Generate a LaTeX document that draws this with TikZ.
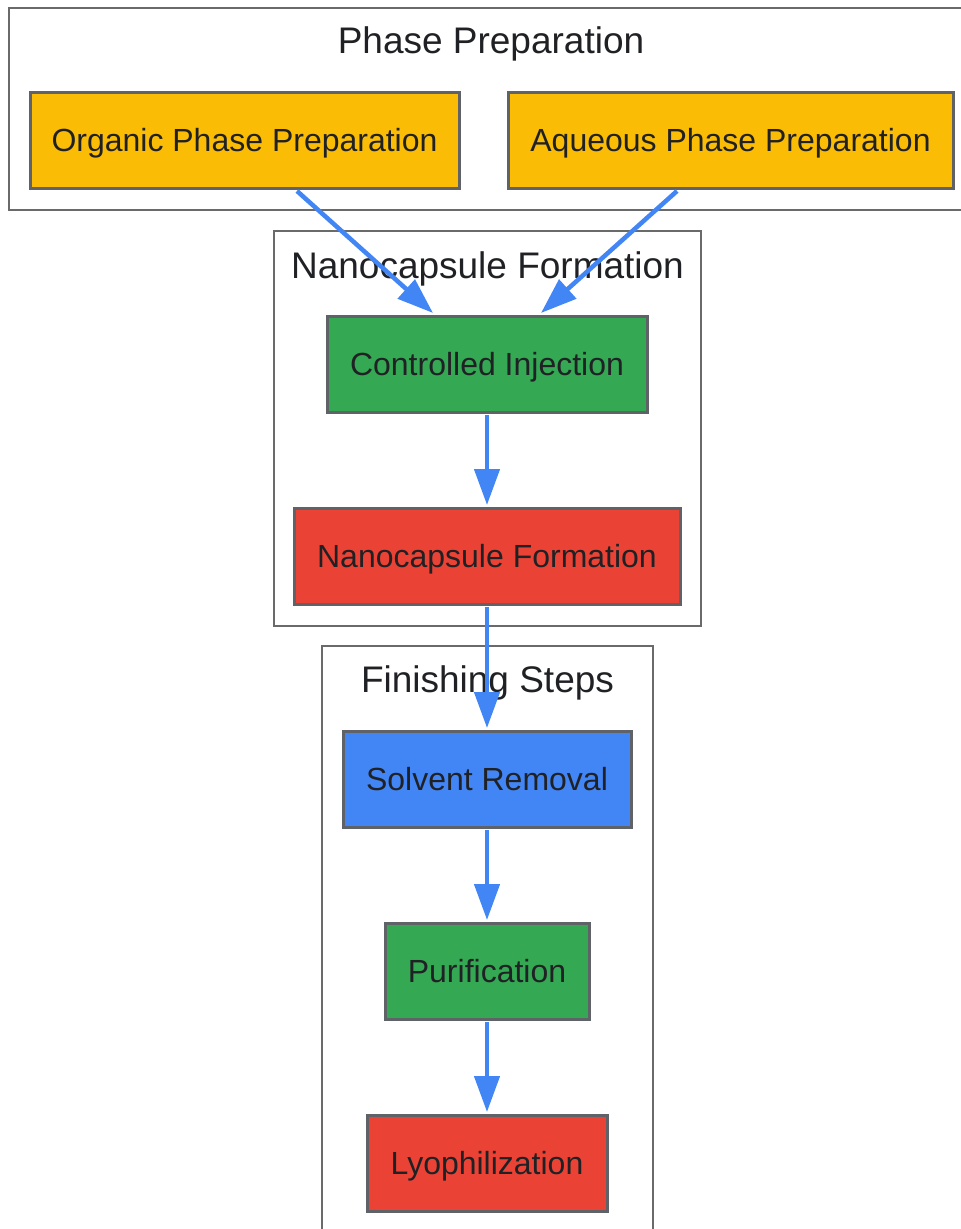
\documentclass[tikz,border=0pt]{standalone}
\usepackage{fontspec}
\setmainfont{Liberation Sans}
\usetikzlibrary{arrows.meta,calc}
\definecolor{txt}{HTML}{202124}
\definecolor{bord}{HTML}{5F6368}
\definecolor{clus}{HTML}{6A6A6A}
\definecolor{gyellow}{HTML}{FBBC05}
\definecolor{ggreen}{HTML}{34A853}
\definecolor{gred}{HTML}{EA4335}
\definecolor{gblue}{HTML}{4285F4}
\begin{document}
\begin{tikzpicture}[x=1pt,y=-1pt,
  stepbox/.style={draw=bord,line width=3pt,inner sep=0pt,text=txt,
    font=\fontsize{32}{38}\selectfont,text height=23pt,text depth=0pt},
  clusterbox/.style={draw=clus,line width=2pt,inner sep=0pt},
  clustertitle/.style={anchor=base,text=txt,inner sep=0pt,font=\fontsize{37}{44}\selectfont},
  flow/.style={draw=gblue,line width=4.5pt,-{Triangle[length=36pt,width=25pt]}}]
\useasboundingbox (0,0) rectangle (961,1229);
\begin{scope}
\clip (0,0) rectangle (961,1229);
% clusters
\node[clusterbox,minimum width=966pt,minimum height=202pt] (c1) at (492,109) {};
\node[clusterbox,minimum width=427pt,minimum height=395pt] (c2) at (487.5,428.5) {};
\node[clusterbox,minimum width=331pt,minimum height=600pt] (c3) at (487.5,946) {};
\node[clustertitle] (t1) at (491,53) {Phase Preparation};
\node[clustertitle] (t2) at (487.5,278) {Nanocapsule Formation};
\node[clustertitle] (t3) at (487.5,692) {Finishing Steps};
% nodes
\node[stepbox,fill=gyellow,minimum width=429pt,minimum height=96pt] (org) at (244.5,140) {Organic Phase Preparation};
\node[stepbox,fill=gyellow,minimum width=445pt,minimum height=96pt] (aq) at (730.5,140) {Aqueous Phase Preparation};
\node[stepbox,fill=ggreen,minimum width=320pt,minimum height=96pt] (inj) at (487,364) {Controlled Injection};
\node[stepbox,fill=gred,minimum width=386pt,minimum height=96pt] (form) at (487,556) {Nanocapsule Formation};
\node[stepbox,fill=gblue,minimum width=288pt,minimum height=96pt] (solv) at (487,779) {Solvent Removal};
\node[stepbox,fill=ggreen,minimum width=204pt,minimum height=96pt] (pur) at (487,971) {Purification};
\node[stepbox,fill=gred,minimum width=240pt,minimum height=96pt] (lyo) at (487,1163) {Lyophilization};
% connectors
\draw[flow] ($(org.south)+(52.5,1.5)$) -- ($(inj.north)+(-54,-1.5)$);
\draw[flow] ($(aq.south)+(-53.5,1.5)$) -- ($(inj.north)+(54,-1.5)$);
\draw[flow] ($(inj.south)+(0,1.5)$) -- ($(form.north)+(0,-1.5)$);
\draw[flow] ($(form.south)+(0,1.5)$) -- ($(solv.north)+(0,-1.5)$);
\draw[flow] ($(solv.south)+(0,1.5)$) -- ($(pur.north)+(0,-1.5)$);
\draw[flow] ($(pur.south)+(0,1.5)$) -- ($(lyo.north)+(0,-1.5)$);
\end{scope}
\end{tikzpicture}
\end{document}
